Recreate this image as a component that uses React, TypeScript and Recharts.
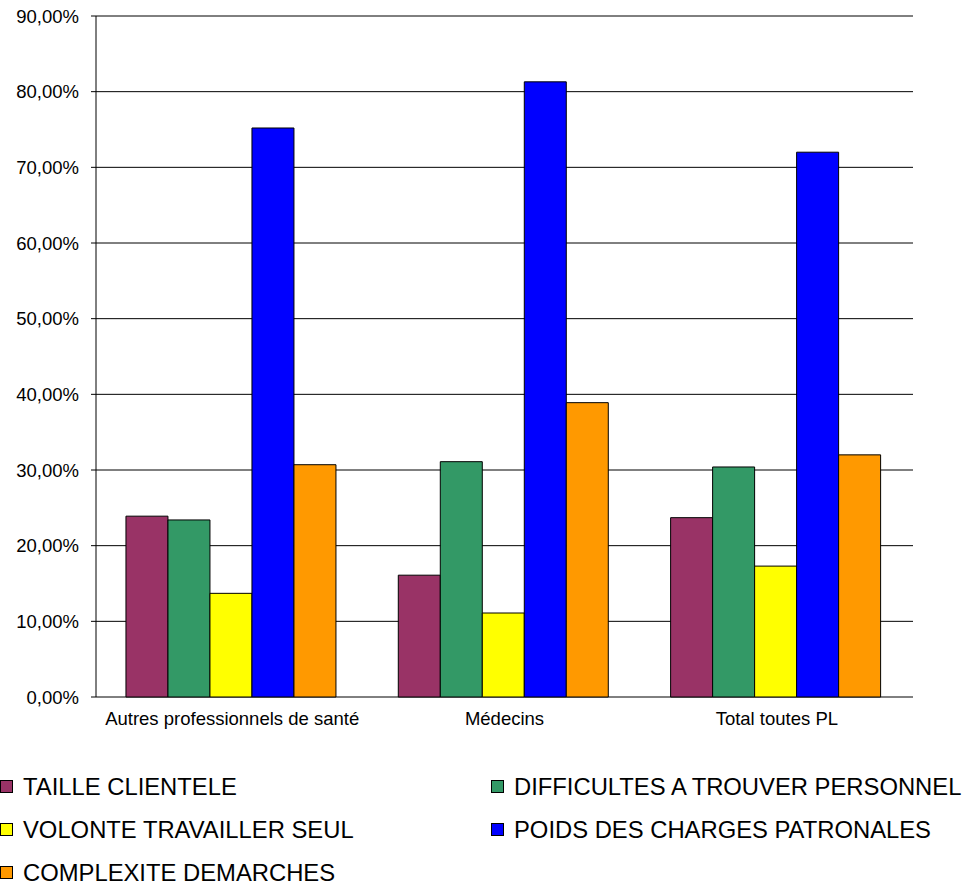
import React from "react";
import { BarChart, Bar, XAxis, YAxis, CartesianGrid, Legend } from "recharts";

const categories = ["Autres professionnels de santé", "Médecins", "Total toutes PL"];
const tailleClientele = [23.9, 16.1, 23.7];
const difficultesPersonnel = [23.4, 31.1, 30.4];
const volonteSeul = [13.7, 11.1, 17.3];
const chargesPatronales = [75.2, 81.3, 72.0];
const complexiteDemarches = [30.7, 38.9, 32.0];
const yTicks = [0, 10, 20, 30, 40, 50, 60, 70, 80, 90];
const edgeTicks = [0, 1, 2, 3];

const series = [
  { key: "taille", name: "TAILLE CLIENTELE", color: "#993366", values: tailleClientele },
  { key: "diff", name: "DIFFICULTES A TROUVER PERSONNEL", color: "#339966", values: difficultesPersonnel },
  { key: "seul", name: "VOLONTE TRAVAILLER SEUL", color: "#FFFF00", values: volonteSeul },
  { key: "charges", name: "POIDS DES CHARGES PATRONALES", color: "#0000FF", values: chargesPatronales },
  { key: "complex", name: "COMPLEXITE DEMARCHES", color: "#FF9900", values: complexiteDemarches },
];

const data = categories.map((name, i) => {
  const row: Record<string, string | number> = { name };
  series.forEach((s) => (row[s.key] = s.values[i]));
  return row;
});

const FONT = "'Liberation Sans', Arial, sans-serif";

const fmt = (v: number) => v.toFixed(2).replace(".", ",") + "%";

const LegendContent = () => (
  <div
    style={{
      display: "grid",
      gridTemplateColumns: "491px 480px",
      gridAutoRows: "43px",
      paddingTop: 21,
      fontFamily: FONT,
      fontSize: 23.8,
      lineHeight: "26px",
      color: "#000",
    }}
  >
    {series.map((s) => (
      <div key={s.key} style={{ display: "flex", alignItems: "center", whiteSpace: "nowrap" }}>
        <span
          style={{
            display: "inline-block",
            width: 11,
            height: 11,
            background: s.color,
            border: "1px solid #000",
            marginLeft: 0,
            marginRight: 10,
          }}
        />
        <span>{s.name}</span>
      </div>
    ))}
  </div>
);

export default function App() {
  return (
    <div style={{ position: "absolute", left: 0, top: 0, background: "#fff" }}>
      <BarChart
        width={971}
        height={884}
        data={data}
        margin={{ top: 16, right: 58, left: 0, bottom: 0 }}
        barCategoryGap="11%"
        barGap={0}
      >
        <CartesianGrid horizontal vertical={false} stroke="#000" xAxisId="edge" />
        <XAxis
          xAxisId="edge"
          type="number"
          domain={[0, 3]}
          ticks={edgeTicks}
          height={0}
          tick={() => <g />}
          tickSize={5}
          axisLine={{ stroke: "#000" }}
          tickLine={{ stroke: "#000" }}
          allowDataOverflow
        />
        <XAxis
          xAxisId="cat"
          dataKey="name"
          height={47}
          axisLine={false}
          tickLine={false}
          tickSize={0}
          tickMargin={15}
          interval={0}
          tick={{ fill: "#000", fontSize: 18.5, fontFamily: FONT }}
        />
        <YAxis
          width={96}
          domain={[0, 90]}
          ticks={yTicks}
          tickFormatter={fmt}
          tickSize={5}
          tickMargin={12}
          axisLine={{ stroke: "#000" }}
          tickLine={{ stroke: "#000" }}
          tick={{ fill: "#000", fontSize: 18.5, fontFamily: FONT }}
          interval={0}
        />
        <Legend
          verticalAlign="bottom"
          height={140}
          content={LegendContent}
          wrapperStyle={{ left: 0, top: 744, width: 971, height: 140 }}
        />
        {series.map((s) => (
          <Bar
            key={s.key}
            xAxisId="cat"
            dataKey={s.key}
            name={s.name}
            fill={s.color}
            stroke="#000"
            strokeWidth={1}
            isAnimationActive={false}
          />
        ))}
      </BarChart>
    </div>
  );
}
